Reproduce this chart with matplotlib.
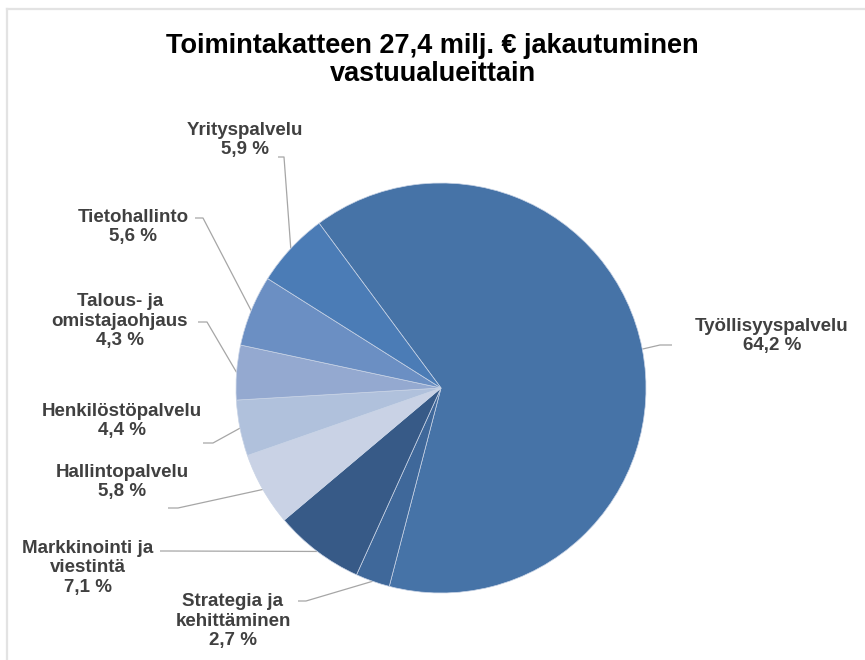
import numpy as np
import matplotlib
matplotlib.use("Agg")
import matplotlib.pyplot as plt
from matplotlib.lines import Line2D

# Share of the operating margin by area of responsibility (%)
categories = [
    "Työllisyyspalvelu",
    "Strategia ja\nkehittäminen",
    "Markkinointi ja\nviestintä",
    "Hallintopalvelu",
    "Henkilöstöpalvelu",
    "Talous- ja\nomistajaohjaus",
    "Tietohallinto",
    "Yrityspalvelu",
]
shares = [64.2, 2.7, 7.1, 5.8, 4.4, 4.3, 5.6, 5.9]
value_labels = ["64,2 %", "2,7 %", "7,1 %", "5,8 %", "4,4 %", "4,3 %", "5,6 %", "5,9 %"]

title = "Toimintakatteen 27,4 milj. € jakautuminen\nvastuualueittain"

slice_colors = ["#4673A7", "#3F689A", "#375A87", "#C9D2E5",
                "#B0C1DC", "#94A9D0", "#6B8FC3", "#4B7CB6"]

W, H = 865, 660
fig = plt.figure(figsize=(W / 100, H / 100), dpi=100)
ax = fig.add_axes([0, 0, 1, 1])

# chart area border (top and left edges)
fig.add_artist(Line2D([6.5 / W, 1], [1 - 8.5 / H, 1 - 8.5 / H], color="#E3E3E3", lw=1.6))
fig.add_artist(Line2D([6.5 / W, 6.5 / W], [0, 1 - 8.5 / H], color="#E3E3E3", lw=1.6))

cx, cy, r = 441, H - 388, 205
wedges, _ = ax.pie(shares, colors=slice_colors, center=(cx, cy), radius=r,
                   startangle=126.5, counterclock=False, frame=True,
                   wedgeprops=dict(edgecolor="#C9D4E6", linewidth=0.5))
ax.set_xlim(0, W)
ax.set_ylim(0, H)
ax.set_aspect("equal")
ax.axis("off")

fig.text(0.5, 1 - 60 / H, title, ha="center", va="center", fontsize=19.5,
         fontweight="bold", family="Liberation Sans", color="#000000",
         linespacing=1.08, multialignment="center")

# label anchor (text centre) and leader elbow start/end, in pixel units
label_xy = [(772, 336), (233, 621), (88, 568), (122, 482), (122, 421),
            (120, 321), (133, 227), (245, 140)]
elbow = [((672, 345), (660, 345)),
         ((298, 601), (306, 601)),
         ((160, 551), (168, 551)),
         ((168, 508), (178, 508)),
         ((203, 443), (213, 443)),
         ((198, 322), (207, 322)),
         ((195, 218), (203, 218)),
         ((278, 157), (284, 157))]

for w, name, val, (lx, ly), (p0, p1) in zip(wedges, categories, value_labels,
                                              label_xy, elbow):
    mid = np.deg2rad((w.theta1 + w.theta2) / 2)
    ex = cx + r * np.cos(mid)
    ey = cy + r * np.sin(mid)
    xs = [p0[0], p1[0], ex]
    ys = [H - p0[1], H - p1[1], ey]
    ax.plot(xs, ys, color="#A6A6A6", lw=0.9, solid_capstyle="butt", zorder=0)
    ax.text(lx, H - ly, f"{name}\n{val}", ha="center", va="center",
            multialignment="center", fontsize=13.5, fontweight="bold",
            family="Liberation Sans", color="#404040", linespacing=1.2)

fig.savefig("out.png", dpi=100, facecolor="white")
